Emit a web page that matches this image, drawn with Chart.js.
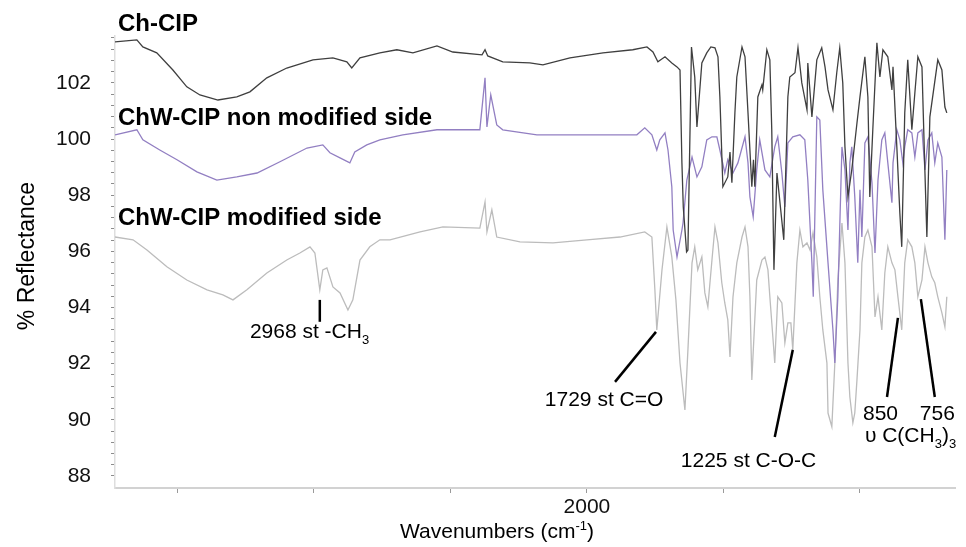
<!DOCTYPE html>
<html>
<head>
<meta charset="utf-8">
<script src="https://cdn.jsdelivr.net/npm/chart.js@4.4.1/dist/chart.umd.min.js"></script>
<style>
  html, body { margin: 0; padding: 0; background: #fff; }
  #wrap { width: 966px; height: 547px; }
</style>
</head>
<body>
<div id="wrap"><canvas id="ftir" width="966" height="547"></canvas></div>
<script>
// wavenumbers (cm-1) and % reflectance
const wnChCIP = [3728, 3648, 3626, 3575, 3516, 3465, 3417, 3351, 3282, 3234, 3172, 3099, 3003, 2930, 2879, 2861, 2831, 2758, 2696, 2637, 2549, 2491, 2384, 2373, 2363, 2308, 2209, 2161, 2062, 1941, 1832, 1780, 1758, 1740, 1714, 1689, 1670, 1659, 1652, 1647, 1635, 1630, 1617, 1605, 1597, 1579, 1561, 1546, 1531, 1520, 1513, 1502, 1484, 1476, 1469, 1458, 1451, 1432, 1421, 1410, 1396, 1390, 1385, 1374, 1359, 1356, 1341, 1330, 1323, 1315, 1304, 1279, 1264, 1257, 1238, 1227, 1213, 1194, 1191, 1176, 1158, 1140, 1128, 1117, 1099, 1085, 1074, 1063, 1055, 1044, 1030, 1011, 1000, 982, 971, 964, 953, 938, 927, 916, 898, 883, 879, 865, 854, 847, 836, 825, 810, 799, 788, 773, 762, 755, 744, 715, 700, 689, 682];
const rChCIP = [103.46, 103.53, 103.28, 103.07, 102.46, 101.86, 101.57, 101.39, 101.50, 101.68, 102.18, 102.53, 102.82, 102.89, 102.75, 102.53, 102.89, 103.07, 103.18, 103.07, 103.32, 103.10, 103.00, 103.18, 102.96, 102.75, 102.71, 102.64, 102.89, 103.07, 103.18, 103.28, 103.10, 102.75, 102.93, 102.71, 102.57, 102.46, 99.15, 97.58, 95.98, 96.05, 103.28, 102.21, 100.43, 102.71, 103.07, 103.28, 103.25, 102.93, 101.50, 98.30, 98.65, 99.54, 98.44, 100.93, 102.21, 103.28, 102.93, 100.93, 98.30, 99.26, 98.30, 101.50, 101.93, 101.75, 103.18, 102.82, 100.33, 95.34, 98.79, 96.41, 101.50, 102.21, 102.36, 103.25, 102.00, 101.04, 102.71, 100.79, 102.82, 103.25, 102.57, 101.75, 101.04, 102.36, 103.25, 102.00, 99.72, 97.94, 98.90, 100.57, 101.50, 102.93, 101.50, 97.94, 100.33, 103.43, 102.21, 103.18, 102.93, 101.75, 102.57, 99.72, 97.37, 96.16, 100.93, 102.82, 100.33, 101.64, 102.93, 102.57, 98.79, 96.51, 100.79, 102.82, 102.46, 101.14, 100.93];

const wnNonMod = [3728, 3648, 3626, 3564, 3501, 3428, 3355, 3282, 3208, 3124, 3025, 2967, 2941, 2904, 2868, 2850, 2806, 2758, 2674, 2549, 2392, 2373, 2366, 2352, 2330, 2308, 2183, 1941, 1817, 1788, 1762, 1744, 1733, 1714, 1703, 1689, 1684, 1670, 1652, 1648, 1634, 1615, 1597, 1579, 1561, 1542, 1524, 1513, 1495, 1484, 1465, 1447, 1421, 1410, 1403, 1391, 1378, 1367, 1348, 1330, 1312, 1301, 1286, 1275, 1264, 1246, 1220, 1202, 1191, 1176, 1171, 1158, 1147, 1136, 1117, 1099, 1092, 1081, 1066, 1055, 1044, 1037, 1030, 1019, 1008, 1000, 993, 982, 971, 956, 945, 934, 920, 909, 898, 883, 879, 865, 854, 843, 836, 825, 810, 799, 788, 773, 762, 751, 737, 726, 715, 700, 689, 682];
const rNonMod = [100.15, 100.33, 99.97, 99.61, 99.26, 98.83, 98.54, 98.65, 98.79, 99.19, 99.68, 99.79, 99.51, 99.33, 99.15, 99.54, 99.79, 99.97, 100.15, 100.33, 100.33, 102.18, 100.43, 101.57, 100.50, 100.33, 100.15, 100.15, 100.15, 100.40, 100.15, 99.61, 99.97, 100.22, 99.61, 98.30, 96.76, 95.80, 96.76, 97.01, 98.54, 99.36, 98.65, 99.01, 99.97, 100.08, 100.08, 99.61, 98.79, 99.26, 98.79, 99.15, 100.08, 99.15, 97.94, 97.23, 98.90, 99.97, 98.90, 98.65, 99.72, 100.08, 98.79, 97.58, 99.86, 100.08, 100.15, 99.97, 98.54, 95.59, 94.38, 100.79, 100.68, 98.19, 95.59, 93.20, 92.02, 94.38, 99.72, 98.90, 96.76, 99.15, 99.72, 97.94, 95.59, 98.19, 96.51, 99.86, 100.08, 98.44, 95.94, 98.54, 99.97, 100.22, 99.15, 97.73, 99.15, 100.33, 99.97, 99.15, 99.72, 100.33, 100.22, 99.36, 100.22, 100.33, 98.90, 99.97, 100.22, 99.15, 99.86, 99.36, 96.41, 98.90];

const wnMod = [3728, 3662, 3611, 3538, 3465, 3391, 3333, 3296, 3245, 3172, 3099, 3051, 3014, 2996, 2978, 2967, 2952, 2930, 2904, 2875, 2857, 2831, 2795, 2758, 2721, 2611, 2527, 2392, 2373, 2366, 2348, 2330, 2245, 2124, 2000, 1879, 1788, 1762, 1751, 1744, 1725, 1707, 1689, 1674, 1659, 1641, 1630, 1615, 1605, 1594, 1579, 1568, 1557, 1542, 1531, 1520, 1506, 1495, 1484, 1476, 1465, 1451, 1432, 1421, 1410, 1403, 1396, 1390, 1378, 1359, 1348, 1337, 1330, 1319, 1312, 1301, 1286, 1275, 1264, 1253, 1246, 1231, 1220, 1209, 1194, 1183, 1172, 1158, 1147, 1136, 1121, 1117, 1103, 1092, 1081, 1066, 1055, 1044, 1037, 1026, 1019, 1011, 1000, 993, 982, 971, 956, 945, 934, 920, 909, 898, 883, 872, 861, 847, 836, 825, 810, 799, 788, 773, 762, 751, 737, 726, 715, 700, 689, 682];
const rMod = [96.51, 96.41, 96.05, 95.45, 94.98, 94.63, 94.45, 94.27, 94.63, 95.23, 95.69, 95.94, 96.16, 95.94, 94.63, 95.34, 95.41, 94.73, 94.52, 93.91, 94.27, 95.69, 96.16, 96.41, 96.41, 96.69, 96.87, 96.83, 97.76, 96.69, 97.48, 96.51, 96.34, 96.30, 96.41, 96.51, 96.69, 96.51, 94.63, 93.20, 95.34, 96.87, 95.80, 94.27, 92.02, 90.35, 92.49, 95.59, 96.16, 95.34, 95.80, 94.52, 94.02, 95.69, 96.87, 96.30, 94.88, 94.16, 93.56, 92.24, 94.38, 95.59, 96.51, 96.87, 96.16, 94.38, 91.42, 92.60, 94.98, 95.69, 95.80, 95.34, 94.38, 92.95, 92.02, 94.38, 94.16, 92.74, 93.45, 93.45, 92.49, 95.59, 96.76, 96.16, 96.30, 96.05, 96.66, 95.80, 94.38, 93.20, 92.02, 90.24, 89.75, 92.02, 94.98, 97.01, 95.59, 92.02, 90.81, 89.89, 90.24, 91.42, 93.20, 95.59, 96.51, 96.76, 96.16, 93.66, 94.38, 93.20, 95.23, 96.16, 95.59, 95.34, 94.38, 93.20, 95.59, 96.41, 96.16, 95.59, 94.38, 94.98, 96.16, 95.59, 95.09, 94.88, 94.38, 93.81, 93.31, 94.38];

const xTickValues = [3500, 3000, 2500, 2000, 1500, 1000];
const xTickLabels = { 2000: '2000' };
const yTickLabels = [88, 90, 92, 94, 96, 98, 100, 102];
const yMinorStep = 0.4;

const FONT = "'Liberation Sans', Arial, Helvetica, sans-serif";

// series names, placed in data units (wavenumber, %R)
const seriesLabels = [
  { text: 'Ch-CIP', wn: 3717, r: 103.85 },
  { text: 'ChW-CIP non modified side', wn: 3717, r: 100.5 },
  { text: 'ChW-CIP modified side', wn: 3717, r: 96.94 }
];

// peak assignments: leader lines and texts, in data units
const leaderLines = [
  [2978, 94.27, 2978, 93.49],
  [1897, 91.35, 1747, 93.13],
  [1312, 89.39, 1246, 92.49],
  [901, 90.81, 861, 93.63],
  [726, 90.81, 777, 94.30]
];
const peakTexts = [
  { parts: [{ t: '2968 st -CH' }, { t: '3', sub: true }], wn: 3234, r: 92.92 },
  { parts: [{ t: '1729 st C=O' }], wn: 2154, r: 90.49 },
  { parts: [{ t: '1225 st C-O-C' }], wn: 1656, r: 88.32 },
  { parts: [{ t: '850' }], wn: 989, r: 89.99 },
  { parts: [{ t: '756' }], wn: 781, r: 89.99 },
  { parts: [{ t: 'υ C(CH' }, { t: '3', sub: true }, { t: ')' }, { t: '3', sub: true }], wn: 982, r: 89.21 }
];

function toPoints(wn, r) {
  return wn.map((x, i) => ({ x: x, y: r[i] }));
}

function richWidth(ctx, parts, size) {
  let w = 0;
  parts.forEach(p => {
    const s = (p.sub || p.sup) ? size * 0.62 : size;
    ctx.font = `${s}px ${FONT}`;
    w += ctx.measureText(p.t).width;
  });
  return w;
}

function drawRich(ctx, parts, x, y, size) {
  let cx = x;
  parts.forEach(p => {
    const s = (p.sub || p.sup) ? size * 0.62 : size;
    ctx.font = `${s}px ${FONT}`;
    const dy = p.sub ? size * 0.3 : (p.sup ? -size * 0.4 : 0);
    ctx.fillText(p.t, cx, y + dy);
    cx += ctx.measureText(p.t).width;
  });
}

const labelPlugin = {
  id: 'ftirLabels',
  afterDraw(chart) {
    const ctx = chart.ctx;
    const xs = chart.scales.x;
    const ys = chart.scales.y;
    ctx.save();
    ctx.fillStyle = '#000';
    ctx.textAlign = 'left';
    ctx.textBaseline = 'alphabetic';

    ctx.font = `bold 24px ${FONT}`;
    seriesLabels.forEach(l => {
      ctx.fillText(l.text, xs.getPixelForValue(l.wn), ys.getPixelForValue(l.r));
    });

    ctx.strokeStyle = '#000';
    ctx.lineWidth = 2.5;
    leaderLines.forEach(([x1, y1, x2, y2]) => {
      ctx.beginPath();
      ctx.moveTo(xs.getPixelForValue(x1), ys.getPixelForValue(y1));
      ctx.lineTo(xs.getPixelForValue(x2), ys.getPixelForValue(y2));
      ctx.stroke();
    });

    peakTexts.forEach(p => {
      drawRich(ctx, p.parts, xs.getPixelForValue(p.wn), ys.getPixelForValue(p.r), 21);
    });

    // axis titles
    const xTitle = [{ t: 'Wavenumbers (cm' }, { t: '-1', sup: true }, { t: ')' }];
    const w = richWidth(ctx, xTitle, 21);
    drawRich(ctx, xTitle, 497 - w / 2, 538, 21);

    ctx.translate(34, 256);
    ctx.rotate(-Math.PI / 2);
    ctx.textAlign = 'center';
    ctx.font = `23px ${FONT}`;
    ctx.fillText('% Reflectance', 0, 0);
    ctx.restore();
  }
};

new Chart(document.getElementById('ftir'), {
  type: 'line',
  data: {
    datasets: [
      { label: 'Ch-CIP', data: toPoints(wnChCIP, rChCIP), borderColor: '#3f3f3f' },
      { label: 'ChW-CIP non modified side', data: toPoints(wnNonMod, rNonMod), borderColor: '#927fc2' },
      { label: 'ChW-CIP modified side', data: toPoints(wnMod, rMod), borderColor: '#bcbcbc' }
    ]
  },
  options: {
    responsive: false,
    animation: false,
    layout: { padding: { top: 36, right: 11, left: 0, bottom: 0 } },
    plugins: {
      legend: { display: false },
      tooltip: { enabled: false }
    },
    elements: {
      point: { radius: 0 },
      line: { tension: 0, borderWidth: 1.3 }
    },
    scales: {
      x: {
        type: 'linear',
        reverse: true,
        min: 652,
        max: 3728,
        afterBuildTicks: (s) => { s.ticks = xTickValues.map(v => ({ value: v })); },
        afterFit: (s) => { s.height = 59; },
        grid: { display: true, drawOnChartArea: false, drawTicks: true, tickLength: 5, color: '#9a9a9a' },
        border: { display: true, color: '#d2d2d2', width: 2 },
        ticks: {
          autoSkip: false,
          maxRotation: 0,
          padding: 2,
          color: '#111',
          font: { size: 21, family: FONT },
          callback: (v) => xTickLabels[v] || ''
        }
      },
      y: {
        min: 87.57,
        max: 103.67,
        afterBuildTicks: (s) => {
          const t = [];
          for (let i = 0; 88 + i * yMinorStep <= 103.6 + 1e-6; i++) {
            t.push({ value: Math.round((88 + i * yMinorStep) * 10) / 10 });
          }
          s.ticks = t;
        },
        afterFit: (s) => { s.width = 115; },
        grid: { display: true, drawOnChartArea: false, drawTicks: true, tickLength: 4, color: '#8c8c8c' },
        border: { display: true, color: '#dedede', width: 1.5 },
        ticks: {
          autoSkip: false,
          padding: 20,
          color: '#111',
          font: { size: 21, family: FONT },
          callback: (v) => yTickLabels.includes(v) ? String(v) : ''
        }
      }
    }
  },
  plugins: [labelPlugin]
});
</script>
</body>
</html>
